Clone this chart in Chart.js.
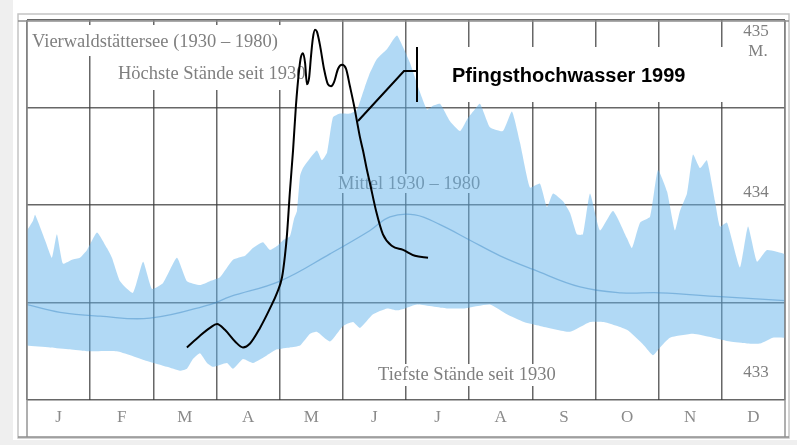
<!DOCTYPE html>
<html><head><meta charset="utf-8">
<script src="https://cdn.jsdelivr.net/npm/chart.js@4.4.1/dist/chart.umd.min.js"></script>
<style>html,body{margin:0;padding:0;background:#fff}canvas{display:block}</style>
</head><body>
<canvas id="c" width="797" height="445"></canvas>
<script>
// ---- data (day of year, lake level in m above sea) ----
const months = ['J','F','M','A','M','J','J','A','S','O','N','D'];
const levelLabels = ['435', '434', '433'];

const highDays = [0,2.9,3.9,8.7,12.0,14.4,17.3,21.7,25.5,28.9,33.7,38.5,40.9,44.8,51.0,55.9,60.2,65.5,72.2,77.0,83.3,88.1,92.9,99.2,105.0,108.8,113.6,117.0,120.4,123.3,126.6,128.6,130.0,131.5,132.9,136.3,139.6,142.0,144.5,147.3,150.7,155.5,158.9,162.8,165.2,168.5,173.3,175.8,178.2,181.1,184.4,189.2,192.6,195.5,198.9,203.7,208.5,211.9,214.8,218.1,222.9,229.2,233.5,237.4,242.2,247.0,250.4,253.3,258.1,261.5,264.8,267.7,271.1,275.9,282.2,288.9,291.3,295.2,300.0,303.8,308.2,312.0,314.4,317.8,320.7,324.1,327.4,331.3,333.7,337.1,343.3,347.2,351.5,356.3,365];
const highLevels = [433.87,433.92,433.95,433.82,433.73,433.85,433.70,433.72,433.73,433.77,433.86,433.78,433.73,433.61,433.55,433.71,433.57,433.60,433.73,433.61,433.59,433.61,433.63,433.72,433.74,433.78,433.81,433.77,433.79,433.82,433.84,433.93,433.97,434.15,434.19,434.24,434.28,434.23,434.27,434.45,434.47,434.47,434.49,434.61,434.68,434.75,434.80,434.84,434.87,434.81,434.73,434.58,434.49,434.51,434.52,434.43,434.38,434.44,434.48,434.52,434.40,434.38,434.48,434.32,434.09,434.11,433.99,434.06,434.02,433.96,433.85,433.85,434.06,433.87,433.97,433.83,433.78,433.91,433.94,434.18,434.07,433.87,433.97,434.06,434.26,434.19,434.23,434.02,433.89,433.91,433.68,433.89,433.71,433.77,433.75];

const lowDays = [0,11.1,20.7,28.9,43.3,57.8,67.4,73.7,77.0,79.9,83.3,86.7,89.6,96.3,99.2,104.0,108.8,115.6,120.4,126.6,131.5,136.3,139.6,145.9,152.2,157.0,160.3,166.6,173.4,178.2,182.0,187.8,202.2,210.4,222.9,231.1,239.3,247.0,261.5,271.1,277.8,288.9,297.1,301.4,304.8,309.6,320.7,330.4,338.6,346.8,353.0,359.2,365];
const lowLevels = [433.28,433.27,433.26,433.25,433.25,433.20,433.17,433.15,433.16,433.21,433.24,433.19,433.17,433.19,433.16,433.21,433.19,433.23,433.26,433.27,433.28,433.34,433.35,433.30,433.38,433.40,433.37,433.44,433.47,433.46,433.47,433.49,433.47,433.47,433.49,433.44,433.40,433.38,433.35,433.40,433.40,433.36,433.28,433.23,433.27,433.32,433.34,433.32,433.30,433.29,433.29,433.32,433.32];

const meanDays = [0,15.9,35.2,59.2,88.1,97.8,121.8,145.9,165.2,174.8,186.8,198.9,213.3,227.8,243.7,266.3,286.1,304.8,333.7,365];
const meanLevels = [433.49,433.45,433.43,433.42,433.49,433.53,433.61,433.75,433.87,433.94,433.95,433.90,433.82,433.74,433.67,433.58,433.55,433.55,433.53,433.51];

const floodDays = [77.0,83.3,88.1,91.5,95.3,100.2,104.0,107.4,112.2,117.0,120.4,122.8,124.2,125.2,126.6,128.1,129.5,131.0,131.9,132.9,133.9,134.8,135.8,136.8,137.7,138.7,139.6,141.1,143.0,144.9,146.4,147.8,149.8,151.7,153.6,155.5,157.5,158.9,160.3,161.8,163.7,165.2,168.1,171.4,175.8,181.1,186.8,193.1];
const floodLevels = [433.27,433.33,433.37,433.39,433.36,433.30,433.27,433.29,433.37,433.47,433.55,433.63,433.74,433.85,434.07,434.28,434.51,434.69,434.76,434.78,434.73,434.62,434.65,434.77,434.86,434.90,434.89,434.82,434.70,434.62,434.61,434.63,434.70,434.72,434.70,434.61,434.51,434.43,434.35,434.28,434.18,434.11,433.97,433.85,433.79,433.77,433.74,433.73];

const pts = (xs, ys) => xs.map((d, i) => ({x: d, y: ys[i]}));

const SERIF = '"Liberation Serif", "DejaVu Serif", serif';
const SANS = '"Liberation Sans", Arial, sans-serif';
const TXT = '#7f7f7f';
const GRID = 'rgba(60,60,60,0.78)';

function box(ctx, x1, y1, x2, y2) { ctx.fillStyle = '#fff'; ctx.fillRect(x1, y1, x2 - x1, y2 - y1); }
function text(ctx, s, x, y, align) {
  ctx.textAlign = align || 'left'; ctx.textBaseline = 'middle'; ctx.fillText(s, x, y);
}

const decor = {
  id: 'decor',
  beforeDraw(chart) {
    const ctx = chart.ctx;
    ctx.save();
    ctx.fillStyle = '#fff'; ctx.fillRect(0, 0, chart.width, chart.height);
    ctx.fillStyle = '#efefef'; ctx.fillRect(0, 0, 13, chart.height);
    ctx.fillRect(0, 440, chart.width, 5);
    ctx.restore();
  },
  beforeDatasetsDraw(chart) {
    const ctx = chart.ctx;
    ctx.save();
    box(ctx, 28, 25, 292, 56);
    box(ctx, 112, 55, 307, 90);
    box(ctx, 336, 174, 490, 193);
    box(ctx, 374, 364, 566, 386);
    ctx.fillStyle = TXT;
    ctx.font = '18.5px ' + SERIF;
    text(ctx, 'Vierwaldstättersee (1930 – 1980)', 32, 42);
    text(ctx, 'Höchste Stände seit 1930', 118, 74);
    text(ctx, 'Mittel 1930 – 1980', 338, 184);
    text(ctx, 'Tiefste Stände seit 1930', 378, 375);
    ctx.font = '17px ' + SERIF;
    text(ctx, levelLabels[0], 756, 32, 'center');
    text(ctx, 'M.', 758, 52, 'center');
    text(ctx, levelLabels[1], 756, 193, 'center');
    text(ctx, levelLabels[2], 756, 373, 'center');
    ctx.restore();
  },
  afterDatasetsDraw(chart) {
    const ctx = chart.ctx;
    ctx.save();
    box(ctx, 430, 47, 734, 102);
    ctx.strokeStyle = '#000'; ctx.lineWidth = 2;
    ctx.beginPath();
    ctx.moveTo(417, 47); ctx.lineTo(417, 102);
    ctx.moveTo(417, 71); ctx.lineTo(404, 71); ctx.lineTo(358, 121);
    ctx.stroke();
    ctx.fillStyle = '#000';
    ctx.font = 'bold 20px ' + SANS;
    ctx.textAlign = 'left'; ctx.textBaseline = 'alphabetic';
    ctx.fillText('Pfingsthochwasser 1999', 452, 82);
    ctx.restore();
  },
  afterDraw(chart) {
    const ctx = chart.ctx;
    const a = chart.chartArea;
    ctx.save();
    ctx.strokeStyle = '#c4c4c4'; ctx.lineWidth = 1.5;
    ctx.strokeRect(18, 14, 771, 424);
    ctx.strokeStyle = '#8e8e8e'; ctx.lineWidth = 1.4;
    ctx.beginPath();
    ctx.moveTo(18, 21); ctx.lineTo(789, 21);
    ctx.moveTo(a.left, a.top); ctx.lineTo(a.left, 437);
    ctx.moveTo(a.right, a.top); ctx.lineTo(a.right, 437);
    ctx.moveTo(18, 437); ctx.lineTo(789, 437);
    ctx.stroke();
    ctx.restore();
  }
};

new Chart(document.getElementById('c'), {
  type: 'line',
  data: {
    datasets: [
      { label: 'Pfingsthochwasser 1999', data: pts(floodDays, floodLevels), xAxisID: 'xd', yAxisID: 'y',
        borderColor: '#000', borderWidth: 2, pointRadius: 0, fill: false, cubicInterpolationMode: 'monotone' },
      { label: 'Mittel 1930 – 1980', data: pts(meanDays, meanLevels), xAxisID: 'xd', yAxisID: 'y',
        borderColor: 'rgba(60,135,195,0.45)', borderWidth: 1.3, pointRadius: 0, fill: false, tension: 0.4 },
      { label: 'Höchste Stände seit 1930', data: pts(highDays, highLevels), xAxisID: 'xd', yAxisID: 'y',
        borderColor: 'rgba(0,0,0,0)', borderWidth: 1, pointRadius: 0, tension: 0.15,
        fill: '+1', backgroundColor: 'rgba(100,180,236,0.5)' },
      { label: 'Tiefste Stände seit 1930', data: pts(lowDays, lowLevels), xAxisID: 'xd', yAxisID: 'y',
        borderColor: 'rgba(0,0,0,0)', borderWidth: 1, pointRadius: 0, tension: 0.15, fill: false }
    ]
  },
  options: {
    responsive: false,
    animation: false,
    devicePixelRatio: 1,
    events: [],
    layout: { padding: { left: 27, right: 12, top: 20, bottom: 0 } },
    plugins: { legend: { display: false }, tooltip: { enabled: false } },
    scales: {
      x: {
        type: 'category', labels: months, offset: true, position: 'bottom',
        grid: { offset: true, color: GRID, lineWidth: 1.5, drawTicks: false },
        border: { display: false },
        ticks: { color: '#8a8a8a', font: { family: SERIF, size: 17 }, padding: 7, maxRotation: 0, autoSkip: false },
        afterFit(s) { s.height = 45; }
      },
      xd: { type: 'linear', min: 0, max: 365, display: false },
      y: {
        type: 'linear', min: 433, max: 434.95, position: 'left',
        ticks: { display: false, stepSize: 0.5 },
        grid: { color: GRID, lineWidth: 1.5, drawTicks: false },
        border: { display: false },
        afterFit(s) { s.width = 0; }
      }
    }
  },
  plugins: [decor]
});
</script>
</body></html>
